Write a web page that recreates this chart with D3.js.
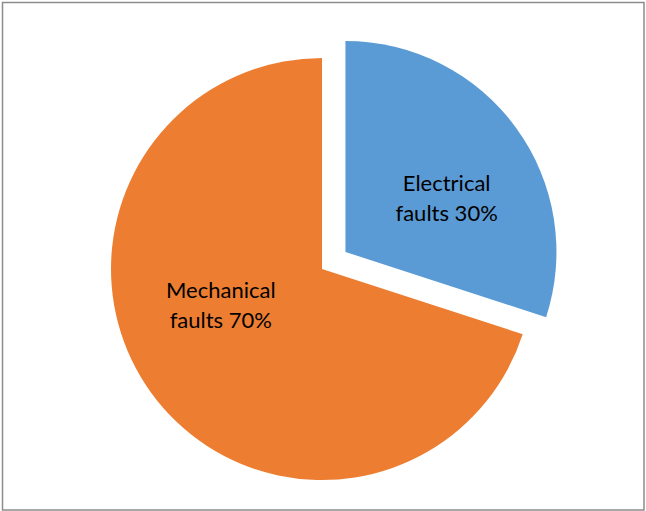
<!DOCTYPE html>
<html>
<head>
<meta charset="utf-8">
<script src="https://cdn.jsdelivr.net/npm/d3@7"></script>
<style>
  html, body { margin: 0; padding: 0; background: #fff; }
  svg { display: block; }
</style>
</head>
<body>
<svg id="chart" width="646" height="511"></svg>
<script>
// Data
const categories = ["Electrical faults", "Mechanical faults"];
const values = [30, 70];
const colors = ["#5B9BD5", "#ED7D31"];
const explode = [29, 0];

const W = 646, H = 511;
const cx = 322, cy = 269, R = 211;

const svg = d3.select("#chart");

// border
svg.append("rect")
  .attr("x", 2.5).attr("y", 2.5)
  .attr("width", W - 4.5).attr("height", H - 3.5)
  .attr("fill", "#fff")
  .attr("stroke", "#8c8c8c")
  .attr("stroke-width", 1.5);

const pie = d3.pie().sort(null).value(d => d.value);
const data = categories.map((c, i) => ({ name: c, value: values[i], color: colors[i], explode: explode[i] }));
const arcs = pie(data);
const arc = d3.arc().innerRadius(0).outerRadius(R);

const g = svg.append("g").attr("transform", `translate(${cx},${cy})`);

const slices = g.selectAll("g.slice").data(arcs).enter().append("g")
  .attr("class", "slice")
  .attr("transform", d => {
    const mid = (d.startAngle + d.endAngle) / 2;
    const e = d.data.explode;
    return `translate(${e * Math.sin(mid)},${-e * Math.cos(mid)})`;
  });

slices.append("path")
  .attr("d", arc)
  .attr("fill", d => d.data.color);

const labelR = R * 0.525;
const shift = 12 * Math.PI / 180;
slices.append("text")
  .attr("font-family", "Lato, 'Open Sans', sans-serif")
  .attr("font-size", 22)
  .attr("fill", "#000")
  .attr("text-anchor", "middle")
  .each(function(d) {
    const a = (d.startAngle + d.endAngle) / 2 + shift;
    const x = labelR * Math.sin(a), y = -labelR * Math.cos(a);
    const t = d3.select(this);
    const words = d.data.name.split(" ");
    t.append("tspan").attr("x", x).attr("y", y - 16).text(words[0]);
    t.append("tspan").attr("x", x).attr("y", y + 14).text(words[1] + " " + d.data.value + "%");
  });
</script>
</body>
</html>
